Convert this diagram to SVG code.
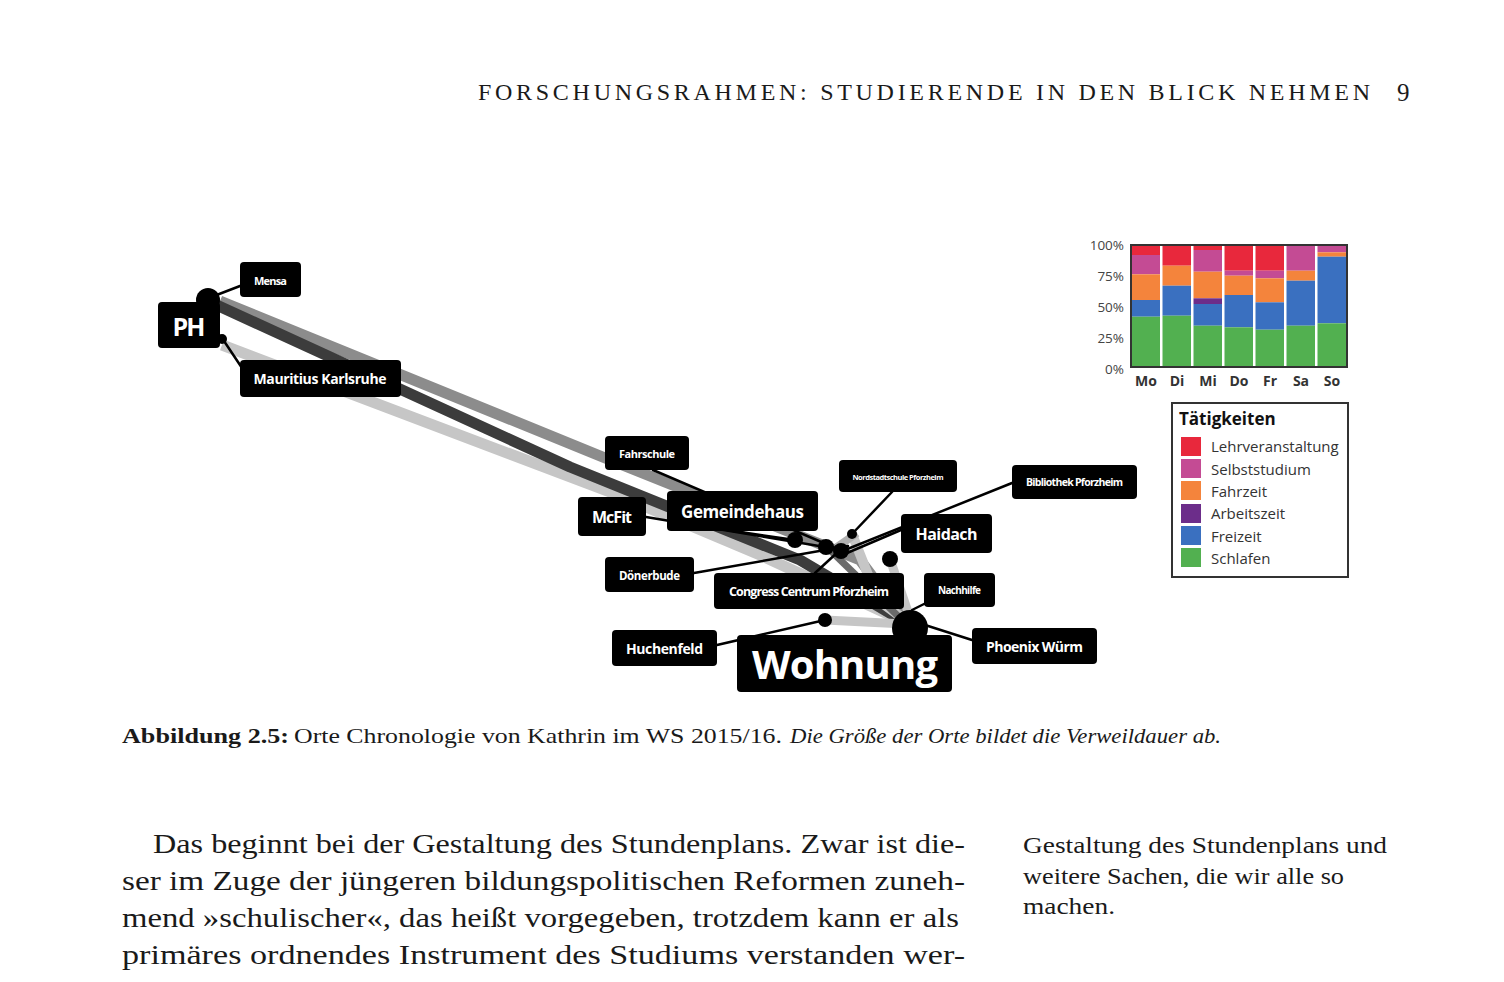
<svg xmlns="http://www.w3.org/2000/svg" width="1504" height="982" viewBox="0 0 1504 982">
<style>
.serif{font-family:"Liberation Serif","DejaVu Serif",serif;fill:#1a1a1a}
.nb{fill:#000;rx:4;ry:4}
.nt{font-family:"Open Sans","Noto Sans","DejaVu Sans",sans-serif;font-weight:700;fill:#fff;text-anchor:middle;dominant-baseline:central}
.lead{stroke:#000;stroke-width:2.5;fill:none;stroke-linecap:round}
.band{fill:none;stroke-linejoin:round;stroke-linecap:butt}
.ax{font-family:"Open Sans","Noto Sans",sans-serif;fill:#444;font-size:13.5px}
.day{font-family:"Open Sans","Noto Sans",sans-serif;fill:#333;font-size:14px;font-weight:700;text-anchor:middle}
.lg{font-family:"Open Sans","Noto Sans",sans-serif;fill:#333;font-size:15px}
.r{fill:#e8283c}.p{fill:#c44b94}.o{fill:#f4843c}.u{fill:#6c2d8a}.b{fill:#3a70c0}.g{fill:#52b050}
</style>
<rect width="1504" height="982" fill="#fff"/>

<!-- header -->
<text class="serif" x="478" y="100" font-size="24" textLength="892" lengthAdjust="spacing">FORSCHUNGSRAHMEN: STUDIERENDE IN DEN BLICK NEHMEN</text>
<text class="serif" x="1397" y="101" font-size="25">9</text>

<!-- connectors -->
<g id="connectors">
  <polyline class="band" stroke="#c6c6c6" stroke-width="11" points="222,345 613,493 760,555 905,622"/>
  <polyline class="band" stroke="#8c8c8c" stroke-width="11" points="220,301 610,460 860,560 905,620"/>
  <polyline class="band" stroke="#3c3c3c" stroke-width="11" points="210,302 570,467 800,560 905,622"/>
  <polyline class="band" stroke="#c6c6c6" stroke-width="10" points="852,534 878,600 905,620"/>
  <polyline class="band" stroke="#c6c6c6" stroke-width="9" points="890,559 908,612"/>
  <polyline class="band" stroke="#c6c6c6" stroke-width="9" points="825,620 905,624"/>
  <polyline class="band" stroke="#b0b0b0" stroke-width="8" points="837,547 857,533"/>
  <polyline class="band" stroke="#6a6a6a" stroke-width="7" points="830,550 900,618"/>
  <line class="lead" x1="214" y1="296" x2="240" y2="286"/>
  <line class="lead" x1="222" y1="338" x2="242" y2="368"/>
  <line class="lead" x1="653" y1="470" x2="840" y2="550"/>
  <line class="lead" x1="646" y1="517" x2="825" y2="547"/>
  <line class="lead" x1="727" y1="530" x2="795" y2="540"/>
  <line class="lead" x1="694" y1="573" x2="848" y2="546"/>
  <line class="lead" x1="815" y1="573" x2="840" y2="550"/>
  <line class="lead" x1="901" y1="530" x2="840" y2="556"/>
  <line class="lead" x1="892" y1="492" x2="852" y2="534"/>
  <line class="lead" x1="1012" y1="483" x2="840" y2="552"/>
  <line class="lead" x1="926" y1="603" x2="912" y2="610"/>
  <line class="lead" x1="972" y1="640" x2="925" y2="625"/>
  <line class="lead" x1="717" y1="645" x2="825" y2="620"/>
  <circle cx="208" cy="300" r="12" fill="#000"/>
  <circle cx="222" cy="339" r="5" fill="#000"/>
  <circle cx="795" cy="540" r="8" fill="#000"/>
  <circle cx="826" cy="547" r="8" fill="#000"/>
  <circle cx="841" cy="551" r="8" fill="#000"/>
  <circle cx="852" cy="534" r="5" fill="#000"/>
  <circle cx="890" cy="559" r="8" fill="#000"/>
  <circle cx="825" cy="620" r="7" fill="#000"/>
  <circle cx="910" cy="628" r="18" fill="#000"/>
</g>

<!-- nodes -->
<g id="node-ph"><rect class="nb" x="158" y="302" width="62" height="46"/><text class="nt" x="189" y="326" font-size="25" textLength="33">PH</text></g>
<g id="node-mensa"><rect class="nb" x="240" y="262" width="61" height="35"/><text class="nt" x="270.5" y="280" font-size="11" textLength="33">Mensa</text></g>
<g id="node-mauritius"><rect class="nb" x="240" y="360" width="161" height="37"/><text class="nt" x="320" y="378.5" font-size="14" textLength="133">Mauritius Karlsruhe</text></g>
<g id="node-fahrschule"><rect class="nb" x="605" y="436" width="84" height="34"/><text class="nt" x="647" y="453" font-size="11" textLength="56">Fahrschule</text></g>
<g id="node-mcfit"><rect class="nb" x="578" y="497" width="68" height="39"/><text class="nt" x="612" y="517" font-size="16" textLength="40">McFit</text></g>
<g id="node-gemeindehaus"><rect class="nb" x="667" y="491" width="151" height="40"/><text class="nt" x="742.5" y="511" font-size="17" textLength="123">Gemeindehaus</text></g>
<g id="node-nordstadtschule"><rect class="nb" x="839" y="460" width="118" height="32"/><text class="nt" x="898" y="476.5" font-size="7.5" textLength="91">Nordstadtschule Pforzheim</text></g>
<g id="node-bibliothek"><rect class="nb" x="1012" y="465" width="125" height="34"/><text class="nt" x="1074.5" y="482" font-size="10.5" textLength="97">Bibliothek Pforzheim</text></g>
<g id="node-haidach"><rect class="nb" x="901" y="514" width="91" height="39"/><text class="nt" x="946.5" y="533.5" font-size="16" textLength="62">Haidach</text></g>
<g id="node-doenerbude"><rect class="nb" x="605" y="557" width="89" height="35"/><text class="nt" x="649.5" y="575" font-size="11.5" textLength="61">Dönerbude</text></g>
<g id="node-congress"><rect class="nb" x="714" y="573" width="190" height="36"/><text class="nt" x="809" y="591" font-size="12.5" textLength="160">Congress Centrum Pforzheim</text></g>
<g id="node-nachhilfe"><rect class="nb" x="924" y="573" width="71" height="34"/><text class="nt" x="959.5" y="590" font-size="10" textLength="43">Nachhilfe</text></g>
<g id="node-huchenfeld"><rect class="nb" x="612" y="630" width="105" height="36"/><text class="nt" x="664.5" y="648" font-size="14" textLength="77">Huchenfeld</text></g>
<g id="node-wohnung"><rect class="nb" x="737" y="635" width="215" height="57"/><text class="nt" x="845" y="663" font-size="40" textLength="186">Wohnung</text></g>
<g id="node-phoenix"><rect class="nb" x="972" y="628" width="125" height="36"/><text class="nt" x="1034.5" y="646.5" font-size="14" textLength="97">Phoenix Würm</text></g>

<!-- stacked bar chart -->
<g id="chart">
  <rect x="1131" y="245" width="216" height="122" fill="#fff"/>
  <rect class="r" x="1131.5" y="245" width="28.5" height="10"/>
  <rect class="p" x="1131.5" y="255" width="28.5" height="19.3"/>
  <rect class="o" x="1131.5" y="274.3" width="28.5" height="25.7"/>
  <rect class="b" x="1131.5" y="300" width="28.5" height="16.7"/>
  <rect class="g" x="1131.5" y="316.7" width="28.5" height="50.3"/>
  <rect class="r" x="1162.5" y="245" width="28.5" height="20.7"/>
  <rect class="o" x="1162.5" y="265.7" width="28.5" height="20"/>
  <rect class="b" x="1162.5" y="285.7" width="28.5" height="30"/>
  <rect class="g" x="1162.5" y="315.7" width="28.5" height="51.3"/>
  <rect class="r" x="1193.5" y="245" width="28.5" height="5"/>
  <rect class="p" x="1193.5" y="250" width="28.5" height="21.7"/>
  <rect class="o" x="1193.5" y="271.7" width="28.5" height="26.6"/>
  <rect class="u" x="1193.5" y="298.3" width="28.5" height="5.7"/>
  <rect class="b" x="1193.5" y="304" width="28.5" height="21.7"/>
  <rect class="g" x="1193.5" y="325.7" width="28.5" height="41.3"/>
  <rect class="r" x="1224.5" y="245" width="28.5" height="25.7"/>
  <rect class="p" x="1224.5" y="270.7" width="28.5" height="5"/>
  <rect class="o" x="1224.5" y="275.7" width="28.5" height="19.3"/>
  <rect class="b" x="1224.5" y="295" width="28.5" height="32.3"/>
  <rect class="g" x="1224.5" y="327.3" width="28.5" height="39.7"/>
  <rect class="r" x="1255.5" y="245" width="28.5" height="25.7"/>
  <rect class="p" x="1255.5" y="270.7" width="28.5" height="7.6"/>
  <rect class="o" x="1255.5" y="278.3" width="28.5" height="24"/>
  <rect class="b" x="1255.5" y="302.3" width="28.5" height="27.4"/>
  <rect class="g" x="1255.5" y="329.7" width="28.5" height="37.3"/>
  <rect class="p" x="1286.5" y="245" width="28.5" height="25.7"/>
  <rect class="o" x="1286.5" y="270.7" width="28.5" height="10"/>
  <rect class="b" x="1286.5" y="280.7" width="28.5" height="45"/>
  <rect class="g" x="1286.5" y="325.7" width="28.5" height="41.3"/>
  <rect class="p" x="1317.5" y="245" width="29" height="7.3"/>
  <rect class="o" x="1317.5" y="252.3" width="29" height="4.4"/>
  <rect class="b" x="1317.5" y="256.7" width="29" height="66.6"/>
  <rect class="g" x="1317.5" y="323.3" width="29" height="43.7"/>
  <rect x="1131" y="245" width="216" height="122" fill="none" stroke="#333" stroke-width="2"/>
  <g class="ax" text-anchor="end">
    <text x="1124" y="250">100%</text>
    <text x="1124" y="281">75%</text>
    <text x="1124" y="312">50%</text>
    <text x="1124" y="343">25%</text>
    <text x="1124" y="374">0%</text>
  </g>
  <g class="day">
    <text x="1146" y="386">Mo</text>
    <text x="1177" y="386">Di</text>
    <text x="1208" y="386">Mi</text>
    <text x="1239" y="386">Do</text>
    <text x="1270" y="386">Fr</text>
    <text x="1301" y="386">Sa</text>
    <text x="1332" y="386">So</text>
  </g>
</g>

<!-- legend -->
<g id="legend">
  <rect x="1172" y="403" width="176" height="174" fill="#fff" stroke="#333" stroke-width="2"/>
  <text x="1179" y="425" font-family="Open Sans,Noto Sans,sans-serif" font-weight="700" font-size="17" fill="#111">Tätigkeiten</text>
  <rect class="r" x="1181" y="437" width="20" height="19"/>
  <rect class="p" x="1181" y="459" width="20" height="19"/>
  <rect class="o" x="1181" y="481" width="20" height="19"/>
  <rect class="u" x="1181" y="504" width="20" height="19"/>
  <rect class="b" x="1181" y="526" width="20" height="19"/>
  <rect class="g" x="1181" y="548" width="20" height="19"/>
  <text class="lg" x="1211" y="452">Lehrveranstaltung</text>
  <text class="lg" x="1211" y="474.5">Selbststudium</text>
  <text class="lg" x="1211" y="497">Fahrzeit</text>
  <text class="lg" x="1211" y="519">Arbeitszeit</text>
  <text class="lg" x="1211" y="541.5">Freizeit</text>
  <text class="lg" x="1211" y="564">Schlafen</text>
</g>

<!-- caption -->
<text class="serif" x="122" y="743" font-size="22" font-weight="700" textLength="167" lengthAdjust="spacingAndGlyphs">Abbildung 2.5:</text>
<text class="serif" x="294" y="743" font-size="22" textLength="488" lengthAdjust="spacingAndGlyphs">Orte Chronologie von Kathrin im WS 2015/16.</text>
<text class="serif" x="790" y="743" font-size="22" font-style="italic" textLength="431" lengthAdjust="spacingAndGlyphs">Die Größe der Orte bildet die Verweildauer ab.</text>

<!-- body text -->
<g class="serif" font-size="28">
  <text x="153" y="853" textLength="812" lengthAdjust="spacingAndGlyphs">Das beginnt bei der Gestaltung des Stundenplans. Zwar ist die-</text>
  <text x="122" y="890" textLength="843" lengthAdjust="spacingAndGlyphs">ser im Zuge der jüngeren bildungspolitischen Reformen zuneh-</text>
  <text x="122" y="927" textLength="837" lengthAdjust="spacingAndGlyphs">mend »schulischer«, das heißt vorgegeben, trotzdem kann er als</text>
  <text x="122" y="964" textLength="843" lengthAdjust="spacingAndGlyphs">primäres ordnendes Instrument des Studiums verstanden wer-</text>
</g>
<g class="serif" font-size="24">
  <text x="1023" y="853" textLength="364" lengthAdjust="spacingAndGlyphs">Gestaltung des Stundenplans und</text>
  <text x="1023" y="884" textLength="321" lengthAdjust="spacingAndGlyphs">weitere Sachen, die wir alle so</text>
  <text x="1023" y="914" textLength="92" lengthAdjust="spacingAndGlyphs">machen.</text>
</g>
</svg>
